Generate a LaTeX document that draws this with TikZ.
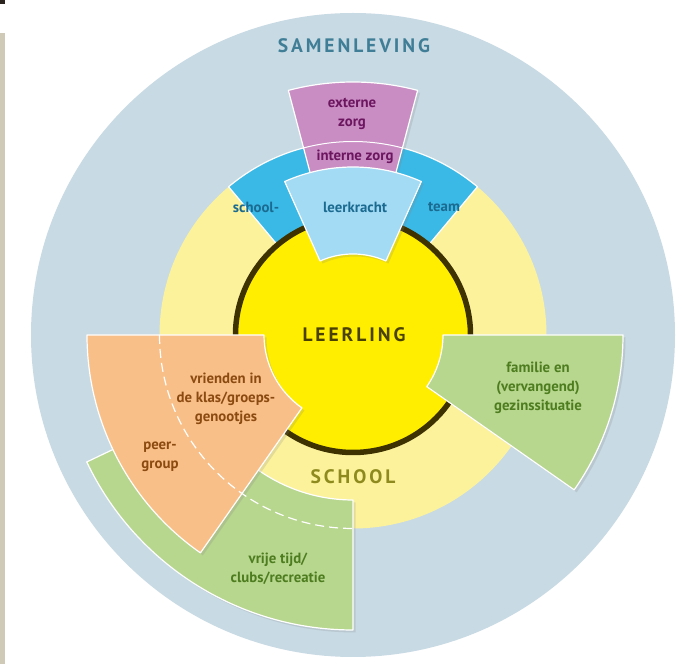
\documentclass[tikz,border=0pt]{standalone}
\usepackage{fontspec}
\setmainfont{PT Sans}
\newfontfamily\spaced[LetterSpace=15]{PT Sans}
\usetikzlibrary{shadows}
\definecolor{samen}{HTML}{C8DAE4}
\definecolor{schoolring}{HTML}{FCF29C}
\definecolor{leery}{HTML}{FFEE00}
\definecolor{leerb}{HTML}{3E3300}
\definecolor{bandblue}{HTML}{3BB9E6}
\definecolor{lightblue}{HTML}{A3DAF4}
\definecolor{pinkc}{HTML}{C98CC3}
\definecolor{orangec}{HTML}{F9BF88}
\definecolor{greenc}{HTML}{B7D68E}
\definecolor{samentext}{HTML}{3F7E96}
\definecolor{leertext}{HTML}{4A4100}
\definecolor{schooltext}{HTML}{8E8A1E}
\definecolor{purpletext}{HTML}{6C1660}
\definecolor{bluetext}{HTML}{1B6B91}
\definecolor{browntext}{HTML}{8B4A10}
\definecolor{greentext}{HTML}{4D7D1F}
\definecolor{stripc}{HTML}{CFC9B8}
\definecolor{cornerc}{HTML}{2A231E}
\newcommand\rsec[4]{(#1:#4pt) arc[start angle=#1,end angle=#2,radius=#4pt] -- (#2:#3pt) arc[start angle=#2,end angle=#1,radius=#3pt] -- cycle}
\begin{document}
\begin{tikzpicture}[x=1pt,y=1pt,
  sec/.style={draw=white,line width=1.2pt,line join=round},
  shad/.style={drop shadow={opacity=0.2,shadow xshift=2.5pt,shadow yshift=-2.5pt}},
  lbl/.style={font=\bfseries\fontsize{14.8}{19}\selectfont,align=center,inner sep=0pt},
  big/.style={font=\spaced\bfseries\fontsize{19.5}{22}\selectfont,inner sep=0pt}]
\useasboundingbox (0,0) rectangle (697,664);
\fill[white] (0,0) rectangle (697,664);
\fill[stripc] (0,0) rectangle (5,631);
\fill[cornerc] (0,660) rectangle (5,664);
\begin{scope}[shift={(353,329)}]
  \fill[samen] (0,0) circle[radius=322pt];
  \fill[schoolring] (0,0) circle[radius=193.5pt];
  \path[fill=bandblue,sec] \rsec{50}{130}{115}{193.5};
  \fill[leery] (0,0) circle[radius=117.5pt];
  \draw[leerb,line width=5.5pt] (0,0) circle[radius=117.5pt];
  \path[fill=pinkc,sec,shad] \rsec{75.2}{104.8}{150}{253};
  \draw[white,line width=1pt] (75.2:193.5pt) arc[start angle=75.2,end angle=104.8,radius=193.5pt];
  \path[fill=lightblue,sec,shad] \rsec{66}{114}{81}{168};
  \path[fill=greenc,sec,shad] \rsec{205.5}{270}{165}{295};
  \path[fill=orangec,sec,shad] \rsec{180}{235}{89}{266};
  \draw[white,line width=1.2pt,dash pattern=on 9pt off 5pt] (180:193.5pt) arc[start angle=180,end angle=270,radius=193.5pt];
  \path[fill=greenc,sec,shad] \rsec{-35}{0}{90}{270};
\end{scope}
\node[big,text=samentext] (samenleving) at (354,618) {SAMENLEVING};
\node[big,text=leertext] (leerling) at (354,329) {LEERLING};
\node[big,text=schooltext] (school) at (353,187) {SCHOOL};
\node[lbl,text=purpletext] (extern) at (352,550) {externe\\zorg};
\node[lbl,text=purpletext] (intern) at (355,507) {interne zorg};
\node[lbl,text=bluetext] (schoolteam1) at (256,457) {school-};
\node[lbl,text=bluetext] (leerkracht) at (355,457) {leerkracht};
\node[lbl,text=bluetext] (schoolteam2) at (444,457) {team};
\node[lbl,text=browntext] (vrienden) at (226,265) {vrienden in\\de klas/groeps-\\genootjes};
\node[lbl,text=browntext] (peer) at (160,207) {peer-\\group};
\node[lbl,text=greentext] (vrije) at (278,95) {vrije tijd/\\clubs/recreatie};
\node[lbl,text=greentext] (familie) at (538,276) {familie en\\(vervangend)\\gezinssituatie};
\end{tikzpicture}
\end{document}
